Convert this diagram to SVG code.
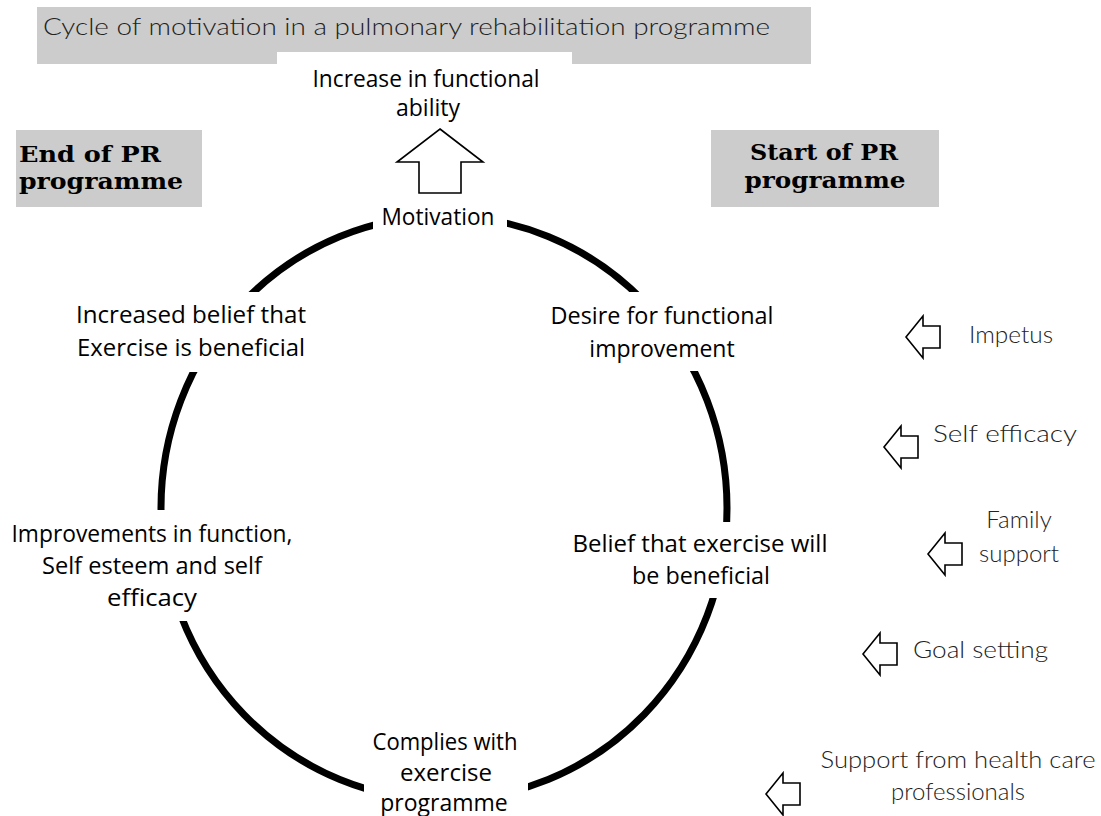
<svg xmlns="http://www.w3.org/2000/svg" xmlns:xlink="http://www.w3.org/1999/xlink" width="1101" height="816" viewBox="0 0 1101 816">
<style>
.lbl{font-family:"Open Sans","Noto Sans","DejaVu Sans",sans-serif;font-size:23px;fill:#000;text-anchor:middle}
.hand{font-family:"Lato","Open Sans",sans-serif;font-weight:300;font-size:24px;fill:#222}
.head{font-family:"DejaVu Serif","Liberation Serif",serif;font-weight:bold;font-size:23px;fill:#000}
.gray{fill:#cccccc}
.mask{fill:#ffffff}
.blk{fill:#ffffff;stroke:#000;stroke-width:1.6;stroke-linejoin:miter}
.cycle{fill:none;stroke:#000;stroke-width:7}
</style>
<defs>
<path id="larrow" d="M0,0 L17,-21 L17,-11 L34,-11 L34,11 L17,11 L17,21 Z"/>
</defs>
<rect width="1101" height="816" fill="#ffffff"/>

<g id="title">
<rect class="gray" x="37" y="7" width="774" height="57"/>
<text class="hand" x="43" y="35" textLength="727" lengthAdjust="spacingAndGlyphs">Cycle of motivation in a pulmonary rehabilitation programme</text>
</g>

<g id="connectors">
<ellipse class="cycle" cx="444" cy="508" rx="283" ry="292"/>
<path class="blk" d="M440,129 L483,162 L461,162 L461,193 L419,193 L419,162 L397,162 Z"/>
<use xlink:href="#larrow" class="blk" transform="translate(906,337)"/>
<use xlink:href="#larrow" class="blk" transform="translate(884,447)"/>
<use xlink:href="#larrow" class="blk" transform="translate(928,554)"/>
<use xlink:href="#larrow" class="blk" transform="translate(863,654)"/>
<use xlink:href="#larrow" class="blk" transform="translate(766,794)"/>
</g>

<g id="node-increase">
<rect class="mask" x="277" y="52" width="295" height="74"/>
<text class="lbl" x="426" y="87" textLength="227" lengthAdjust="spacingAndGlyphs">Increase in functional</text>
<text class="lbl" x="428" y="116">ability</text>
</g>

<g id="node-end">
<rect class="gray" x="16" y="130" width="186" height="77"/>
<text class="head" x="19" y="162" textLength="142" lengthAdjust="spacingAndGlyphs">End of PR</text>
<text class="head" x="19" y="189" textLength="164" lengthAdjust="spacingAndGlyphs">programme</text>
</g>

<g id="node-start">
<rect class="gray" x="711" y="130" width="228" height="77"/>
<text class="head" x="824" y="160" text-anchor="middle" textLength="148" lengthAdjust="spacingAndGlyphs">Start of PR</text>
<text class="head" x="825" y="188" text-anchor="middle" textLength="161" lengthAdjust="spacingAndGlyphs">programme</text>
</g>

<g id="node-motivation">
<rect class="mask" x="373" y="197" width="134" height="46"/>
<text class="lbl" x="438" y="225" textLength="113" lengthAdjust="spacingAndGlyphs">Motivation</text>
</g>

<g id="node-increased-belief">
<rect class="mask" x="60" y="292" width="270" height="80"/>
<text class="lbl" x="191" y="323" textLength="230" lengthAdjust="spacingAndGlyphs">Increased belief that</text>
<text class="lbl" x="191" y="356" textLength="228" lengthAdjust="spacingAndGlyphs">Exercise is beneficial</text>
</g>

<g id="node-desire">
<rect class="mask" x="540" y="292" width="250" height="79"/>
<text class="lbl" x="662" y="324" textLength="223" lengthAdjust="spacingAndGlyphs">Desire for functional</text>
<text class="lbl" x="662" y="357">improvement</text>
</g>

<g id="node-improvements">
<rect class="mask" x="0" y="510" width="310" height="111"/>
<text class="lbl" x="152" y="542" textLength="281" lengthAdjust="spacingAndGlyphs">Improvements in function,</text>
<text class="lbl" x="152" y="574" textLength="220" lengthAdjust="spacingAndGlyphs">Self esteem and self</text>
<text class="lbl" x="152" y="606" textLength="90" lengthAdjust="spacingAndGlyphs">efficacy</text>
</g>

<g id="node-belief">
<rect class="mask" x="560" y="522" width="280" height="76"/>
<text class="lbl" x="700" y="552" textLength="255" lengthAdjust="spacingAndGlyphs">Belief that exercise will</text>
<text class="lbl" x="701" y="584" textLength="138" lengthAdjust="spacingAndGlyphs">be beneficial</text>
</g>

<g id="node-complies">
<rect class="mask" x="364" y="722" width="164" height="94"/>
<text class="lbl" x="445" y="750" textLength="145" lengthAdjust="spacingAndGlyphs">Complies with</text>
<text class="lbl" x="446" y="781" textLength="92" lengthAdjust="spacingAndGlyphs">exercise</text>
<text class="lbl" x="444" y="811">programme</text>
</g>

<g id="node-impetus">
<text class="hand" x="969" y="343" textLength="84" lengthAdjust="spacingAndGlyphs">Impetus</text>
</g>
<g id="node-self-efficacy">
<text class="hand" x="933" y="442" textLength="144" lengthAdjust="spacingAndGlyphs">Self efficacy</text>
</g>
<g id="node-family">
<text class="hand" x="1019" y="528" text-anchor="middle">Family</text>
<text class="hand" x="1019" y="562" text-anchor="middle">support</text>
</g>
<g id="node-goal">
<text class="hand" x="913" y="658" textLength="135" lengthAdjust="spacingAndGlyphs">Goal setting</text>
</g>
<g id="node-support">
<text class="hand" x="958" y="768" text-anchor="middle" textLength="275" lengthAdjust="spacingAndGlyphs">Support from health care</text>
<text class="hand" x="958" y="800" text-anchor="middle">professionals</text>
</g>
</svg>
